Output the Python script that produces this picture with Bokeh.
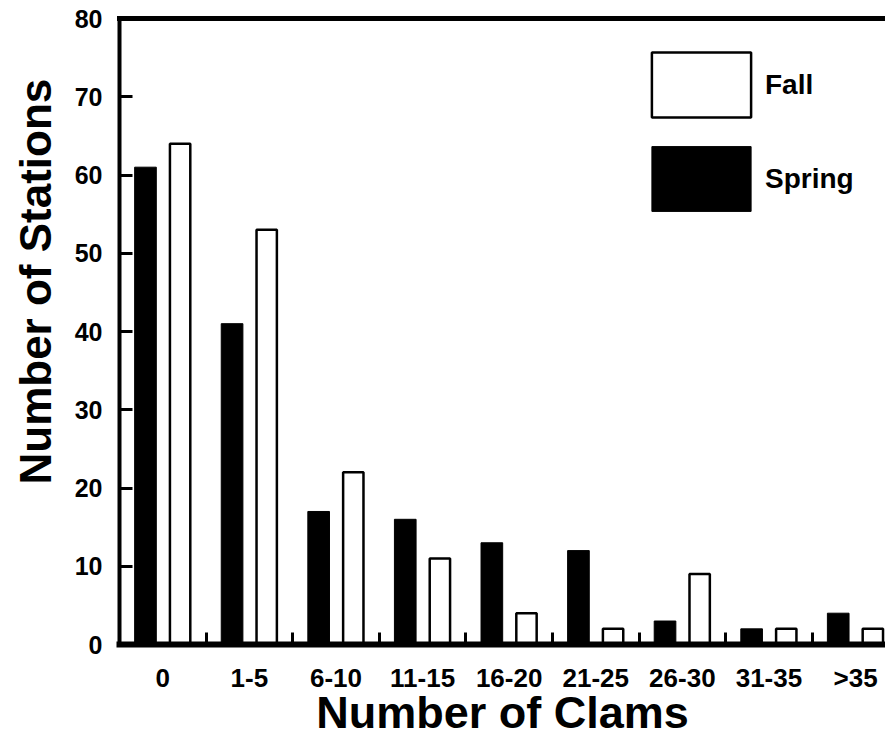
from bokeh.plotting import figure
from bokeh.models import (Range1d, FixedTicker, LinearAxis, Legend, LegendItem,
                          Title, ColumnDataSource)
from bokeh.embed import file_html
from bokeh.resources import INLINE

# ---- data ----
categories = ["0", "1-5", "6-10", "11-15", "16-20", "21-25", "26-30", "31-35", ">35"]
spring = [61, 41, 17, 16, 13, 12, 3, 2, 4]
fall = [64, 53, 22, 11, 4, 2, 9, 2, 2]
y_ticks = [0, 10, 20, 30, 40, 50, 60, 70, 80]

FONT = "Liberation Sans"
idx = list(range(len(categories)))

src = ColumnDataSource(dict(
    spring_x=[i + 0.30 for i in idx],
    fall_x=[i + 0.70 for i in idx],
    spring=spring,
    fall=fall,
))

p = figure(width=885, height=740,
           x_range=Range1d(0, 8.846), y_range=Range1d(0, 80),
           output_backend="svg", toolbar_location=None,
           min_border_left=118, min_border_right=0,
           min_border_top=18, min_border_bottom=93)
p.outline_line_color = None
p.xgrid.visible = False
p.ygrid.visible = False
p.background_fill_color = "white"
p.border_fill_color = "white"

spring_r = p.vbar(x="spring_x", top="spring", bottom=0, width=0.25, source=src,
                  fill_color="black", line_color="black", line_width=1)
fall_r = p.vbar(x="fall_x", top="fall", bottom=0, width=0.235, source=src,
                fill_color="white", line_color="black", line_width=2.5)

# ---- y axis ----
yax = p.yaxis[0]
yax.ticker = FixedTicker(ticks=y_ticks, minor_ticks=[])
yax.major_tick_in = 13
yax.major_tick_out = 0
yax.major_tick_line_width = 3
yax.minor_tick_in = 0
yax.minor_tick_out = 0
yax.axis_line_width = 4
yax.axis_line_cap = "square"
yax.major_label_standoff = 17
yax.major_label_text_font = FONT
yax.major_label_text_font_size = "25px"
yax.major_label_text_font_style = "bold"
yax.major_label_text_color = "black"

# ---- x axis ----
xax = p.xaxis[0]
xax.ticker = FixedTicker(ticks=[i + 0.5 for i in idx], minor_ticks=[i + 1 for i in idx])
xax.major_label_overrides = {i + 0.5: c for i, c in zip(idx, categories)}
xax.major_tick_in = 0
xax.major_tick_out = 0
xax.minor_tick_in = 12
xax.minor_tick_out = 0
xax.minor_tick_line_width = 3
xax.axis_line_width = 6
xax.axis_line_cap = "square"
xax.major_label_standoff = 18
xax.major_label_text_font = FONT
xax.major_label_text_font_size = "26px"
xax.major_label_text_font_style = "bold"
xax.major_label_text_color = "black"
xax.axis_label = "Number of Clams"
xax.axis_label_standoff = -9
xax.axis_label_text_font = FONT
xax.axis_label_text_font_size = "45px"
xax.axis_label_text_font_style = "bold"
xax.axis_label_text_color = "black"

# ---- top border ----
top = LinearAxis(ticker=FixedTicker(ticks=[], minor_ticks=[]))
top.axis_line_width = 5
top.axis_line_cap = "square"
top.major_tick_in = 0
top.major_tick_out = 0
top.minor_tick_in = 0
top.minor_tick_out = 0
top.major_label_text_font_size = "0px"
p.add_layout(top, "above")

# ---- y title ----
ytitle = Title(text="Number of Stations", align="left", vertical_align="top",
               offset=160, standoff=20, text_font=FONT, text_font_size="44px",
               text_font_style="bold", text_color="black")
p.add_layout(ytitle, "left")

# ---- legend ----
legend = Legend(items=[LegendItem(label="Fall", renderers=[fall_r]),
                       LegendItem(label="Spring", renderers=[spring_r])],
                location=(520, 425), glyph_width=124, glyph_height=81,
                spacing=13, padding=0, margin=0, border_line_color=None,
                background_fill_alpha=0, label_standoff=2,
                label_text_font=FONT, label_text_font_size="28px",
                label_text_font_style="bold", label_text_color="black")
p.add_layout(legend)

open("out.html", "w").write(file_html(p, INLINE))
